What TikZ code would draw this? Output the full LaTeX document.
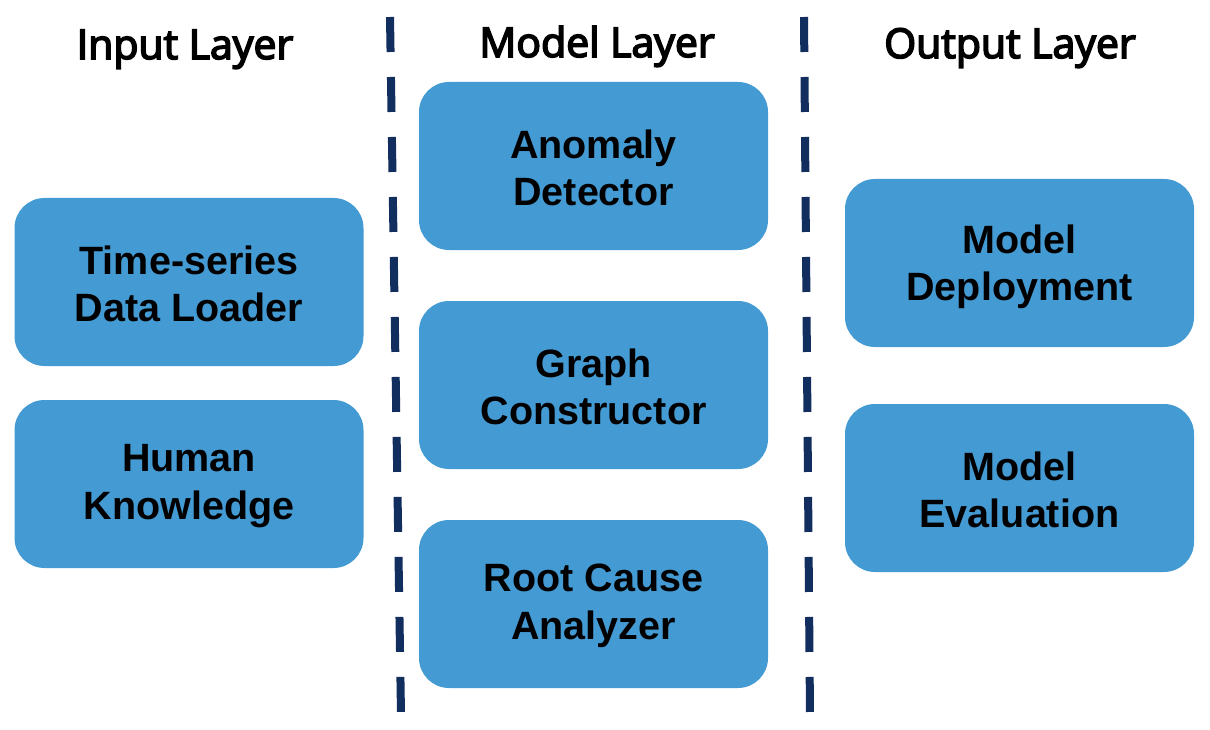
\documentclass[tikz,border=0pt]{standalone}
\usepackage{fontspec}
\setmainfont{Liberation Sans}
\newfontfamily\headfont[FakeBold=4]{Open Sans}
\definecolor{boxblue}{HTML}{449BD4}
\definecolor{dashnavy}{HTML}{112E5E}
\begin{document}
\begin{tikzpicture}[x=1pt,y=-1pt,
  blk/.style={rectangle, rounded corners=30pt, fill=boxblue, draw=none,
    minimum width=349pt, minimum height=168pt, inner sep=0pt},
  txt/.style={align=center, inner sep=0pt, yshift=-2pt,
    font=\fontsize{39.5}{47.5}\selectfont\bfseries},
  head/.style={anchor=base, inner sep=0pt, font=\headfont\fontsize{41}{48}\selectfont},
  sep/.style={draw=dashnavy, line width=8pt, dash pattern=on 35pt off 25pt}]
\useasboundingbox (0,0) rectangle (1210,730);
\coordinate (l1) at (390,17);
\coordinate (l2) at (401,714);
\coordinate (r1) at (804,17);
\coordinate (r2) at (810,714);
\draw[sep] (l1) -- (l2);
\draw[sep] (r1) -- (r2);
\node[head] (hin) at (185,59) {Input Layer};
\node[head] (hmod) at (597,57) {Model Layer};
\node[head] (hout) at (1010,58) {Output Layer};
\node[blk] (ts) at (189,282) {};
\node[txt] (tst) at (ts.center) {Time-series\\Data Loader};
\node[blk] (hk) at (189,484) {};
\node[txt] (hkt) at (hk.center) {Human\\Knowledge};
\node[blk] (ad) at (593.5,166) {};
\node[txt] (adt) at (ad.center) {Anomaly\\Detector};
\node[blk] (gc) at (593.5,385) {};
\node[txt] (gct) at (gc.center) {Graph\\Constructor};
\node[blk] (rc) at (593.5,604) {};
\node[txt] (rct) at (rc.center) {Root Cause\\Analyzer};
\node[blk] (md) at (1019.5,263) {};
\node[txt,yshift=-2pt] (mdt) at (md.center) {Model\\Deployment};
\node[blk] (me) at (1019.5,488) {};
\node[txt] (met) at (me.center) {Model\\Evaluation};
\end{tikzpicture}
\end{document}
